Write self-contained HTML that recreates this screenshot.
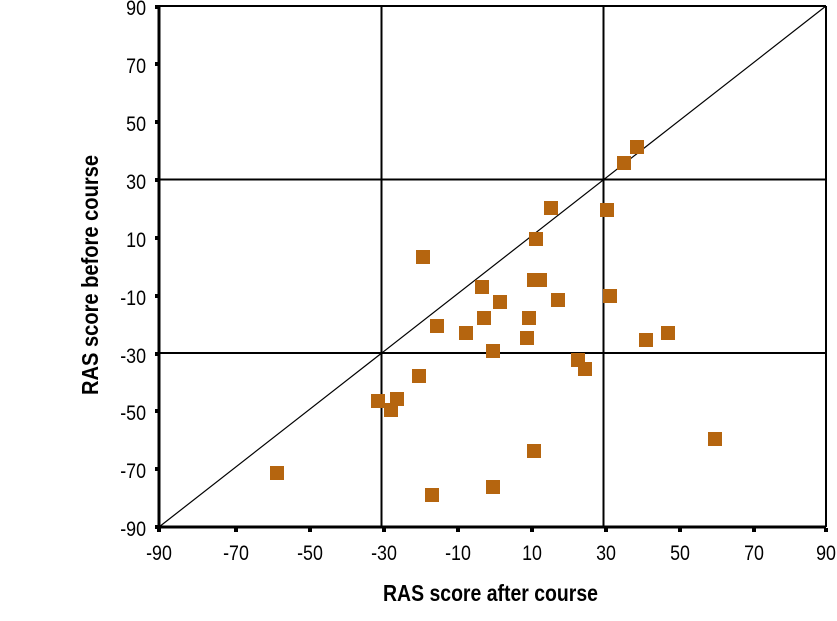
<!DOCTYPE html>
<html><head><style>body{margin:0;background:#fff}svg text{font-family:"Liberation Sans Narrow","Liberation Sans",sans-serif}</style></head><body>
<svg width="837" height="616" viewBox="0 0 837 616" xmlns="http://www.w3.org/2000/svg">
<rect x="0" y="0" width="837" height="616" fill="#fff"/>
<g stroke="#000" fill="none">
<line x1="159" y1="6" x2="826" y2="6" stroke-width="2"/>
<line x1="826" y1="6" x2="826" y2="527" stroke-width="2"/>
<line x1="381.5" y1="6" x2="381.5" y2="527" stroke-width="2"/>
<line x1="603.5" y1="6" x2="603.5" y2="527" stroke-width="2"/>
<line x1="159" y1="179.5" x2="826" y2="179.5" stroke-width="2"/>
<line x1="159" y1="353" x2="826" y2="353" stroke-width="2"/>
<line x1="159" y1="527" x2="826" y2="6" stroke-width="1.2"/>
<line x1="159" y1="6" x2="159" y2="528" stroke-width="3"/>
<line x1="158" y1="527" x2="826" y2="527" stroke-width="3"/>
</g>
<g fill="#000">
<rect x="155" y="5" width="4" height="4"/><rect x="155" y="62" width="4" height="4"/><rect x="155" y="120" width="4" height="4"/><rect x="155" y="178" width="4" height="4"/><rect x="155" y="236" width="4" height="4"/><rect x="155" y="294" width="4" height="4"/><rect x="155" y="352" width="4" height="4"/><rect x="155" y="409" width="4" height="4"/><rect x="155" y="467" width="4" height="4"/><rect x="155" y="525" width="4" height="4"/>
<rect x="157" y="528" width="4" height="4"/><rect x="234" y="528" width="4" height="4"/><rect x="308" y="528" width="4" height="4"/><rect x="382" y="528" width="4" height="4"/><rect x="456" y="528" width="4" height="4"/><rect x="530" y="528" width="4" height="4"/><rect x="604" y="528" width="4" height="4"/><rect x="678" y="528" width="4" height="4"/><rect x="752" y="528" width="4" height="4"/><rect x="824" y="528" width="4" height="4"/>
</g>
<g font-size="21" text-anchor="end" fill="#000" transform="translate(146,0) scale(0.85,1) translate(-146,0)">
<text x="146" y="15">90</text><text x="146" y="73">70</text><text x="146" y="131">50</text><text x="146" y="189">30</text><text x="146" y="247">10</text><text x="146" y="305">-10</text><text x="146" y="363">-30</text><text x="146" y="420">-50</text><text x="146" y="478">-70</text><text x="146" y="536">-90</text>
</g>
<g font-size="21" text-anchor="middle" fill="#000">
<text transform="translate(159,560) scale(0.85,1)">-90</text><text transform="translate(236,560) scale(0.85,1)">-70</text><text transform="translate(310,560) scale(0.85,1)">-50</text><text transform="translate(384,560) scale(0.85,1)">-30</text><text transform="translate(458,560) scale(0.85,1)">-10</text><text transform="translate(532,560) scale(0.85,1)">10</text><text transform="translate(606,560) scale(0.85,1)">30</text><text transform="translate(680,560) scale(0.85,1)">50</text><text transform="translate(754,560) scale(0.85,1)">70</text><text transform="translate(826,560) scale(0.85,1)">90</text>
</g>
<text x="383" y="601" font-size="23" font-weight="bold" textLength="215" lengthAdjust="spacingAndGlyphs">RAS score after course</text>
<text transform="translate(98,395) rotate(-90)" font-size="23" font-weight="bold" textLength="240" lengthAdjust="spacingAndGlyphs">RAS score before course</text>
<g fill="#b5650f">
<rect x="270" y="466" width="14" height="14"/><rect x="371" y="394" width="14" height="14"/><rect x="384" y="403" width="14" height="14"/><rect x="390" y="392" width="14" height="14"/><rect x="412" y="369" width="14" height="14"/><rect x="416" y="250" width="14" height="14"/><rect x="425" y="488" width="14" height="14"/><rect x="430" y="319" width="14" height="14"/><rect x="459" y="326" width="14" height="14"/><rect x="475" y="280" width="14" height="14"/><rect x="477" y="311" width="14" height="14"/><rect x="486" y="344" width="14" height="14"/><rect x="486" y="480" width="14" height="14"/><rect x="493" y="295" width="14" height="14"/><rect x="520" y="331" width="14" height="14"/><rect x="522" y="311" width="14" height="14"/><rect x="527" y="273" width="14" height="14"/><rect x="533" y="273" width="14" height="14"/><rect x="529" y="232" width="14" height="14"/><rect x="527" y="444" width="14" height="14"/><rect x="544" y="201" width="14" height="14"/><rect x="551" y="293" width="14" height="14"/><rect x="571" y="353" width="14" height="14"/><rect x="578" y="362" width="14" height="14"/><rect x="600" y="203" width="14" height="14"/><rect x="603" y="289" width="14" height="14"/><rect x="617" y="156" width="14" height="14"/><rect x="630" y="140" width="14" height="14"/><rect x="639" y="333" width="14" height="14"/><rect x="661" y="326" width="14" height="14"/><rect x="708" y="432" width="14" height="14"/>
</g>
</svg>
</body></html>
